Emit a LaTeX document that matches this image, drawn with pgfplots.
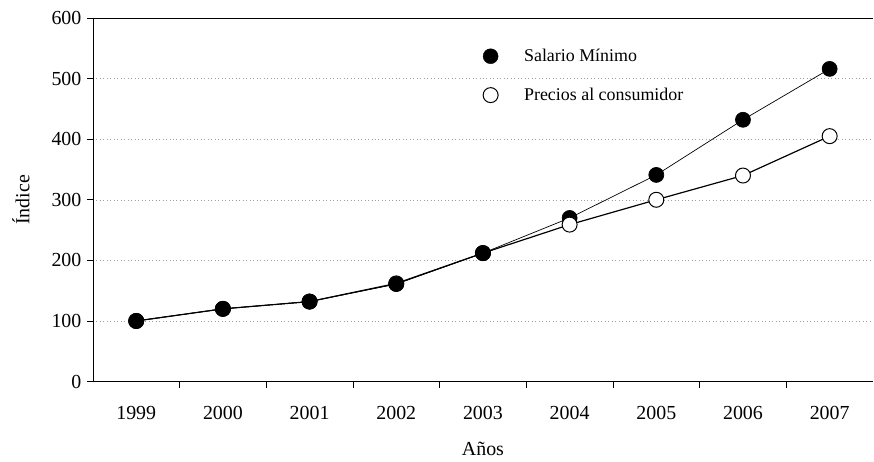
\documentclass[border=0pt]{standalone}
\usepackage{pgfplots}
\pgfplotsset{compat=1.18}
\usepackage{fontspec}
\setmainfont{Liberation Serif}
\begin{document}
\begin{tikzpicture}
\useasboundingbox (-93bp,-80bp) rectangle (782bp,382bp);
\begin{axis}[
  scale only axis,
  width=781bp, height=364bp,
  xmin=-0.5, xmax=8.5,
  ymin=0, ymax=600,
  axis x line*=bottom, axis y line*=left,
  axis line style={-, black, line width=0.6pt},
  xtick={0,...,8},
  xticklabels={1999,2000,2001,2002,2003,2004,2005,2006,2007},
  major x tick style={draw=none},
  minor xtick={0.5,1.5,...,7.5},
  minor tick length=6bp,
  minor x tick style={black, line width=0.6pt},
  ytick={0,100,...,600},
  major tick length=6bp,
  tick align=outside,
  y tick style={black, line width=0.6pt},
  ymajorgrids,
  grid style={dash pattern=on 1pt off 2.5pt, gray!75, line width=0.5pt},
  /pgf/number format/assume math mode=true,
  tick label style={font=\fontsize{20}{23}\selectfont},
  xticklabel style={yshift=-15bp},
  yticklabel style={xshift=-2bp},
  xlabel={Años}, ylabel={Índice},
  label style={font=\fontsize{20}{23}\selectfont},
  xlabel style={at={(axis description cs:0.5,0)}, anchor=north, yshift=-57bp},
  ylabel style={at={(axis description cs:0,0.5)}, anchor=south, xshift=0bp, yshift=60bp},
  legend style={at={(axis cs:4.0,552)}, anchor=north west, draw=none, fill=none,
    font=\fontsize{18}{21}\selectfont, row sep=21bp, inner sep=0pt,
    /tikz/every odd column/.append style={column sep=24bp}},
  legend cell align=left,
  clip=false,
]
\addplot[black, line width=0.7pt, mark=*, mark size=7.5bp, mark options={fill=black}, forget plot]
  coordinates {(0,100) (1,120) (2,132) (3,161) (4,212) (5,270) (6,341) (7,432) (8,516)};
\addplot[black, line width=1.2pt, mark=*, mark size=7.5bp, mark options={fill=white, line width=1pt}, forget plot]
  coordinates {(0,100) (1,120) (2,132) (3,162) (4,212) (5,259) (6,300) (7,340) (8,405)};
\addplot[black, line width=0.7pt, mark=*, mark size=7.5bp, mark options={fill=black}, forget plot]
  coordinates {(0,100) (1,120) (2,132) (3,161) (4,212)};
\addlegendimage{only marks, mark=*, mark size=7.5bp, mark options={fill=black}}
\addlegendentry{Salario Mínimo}
\addlegendimage{only marks, mark=*, mark size=7.5bp, mark options={fill=white, line width=1pt}}
\addlegendentry{Precios al consumidor}
\draw[black, line width=0.6pt] (rel axis cs:0,1) -- (rel axis cs:1,1);
\end{axis}
\end{tikzpicture}
\end{document}
